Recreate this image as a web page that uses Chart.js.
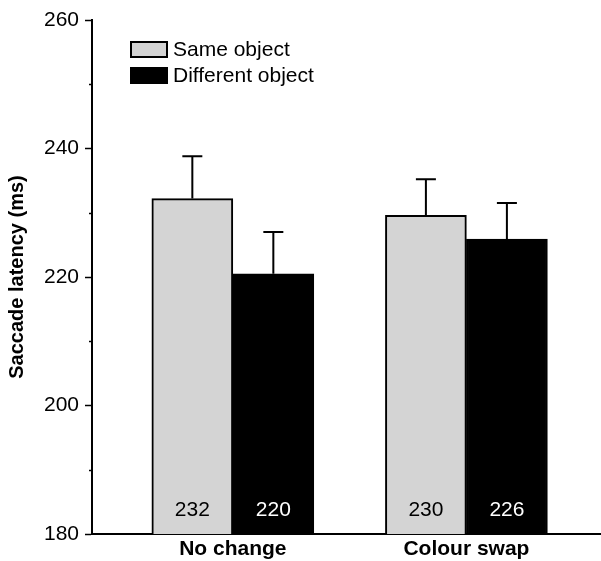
<!DOCTYPE html>
<html>
<head>
<meta charset="utf-8">
<script src="https://cdn.jsdelivr.net/npm/chart.js@4"></script>
<style>
  html, body { margin: 0; padding: 0; background: #fff; }
</style>
</head>
<body>
<canvas id="chart" width="601" height="561"></canvas>
<script>
// data
const CATEGORIES = ['No change', 'Colour swap'];
const SERIES = ['Same object', 'Different object'];
const SAME = [232.2, 229.6];
const DIFF = [220.5, 225.9];
const SAME_ERR = [238.8, 235.2];   // top of error bar
const DIFF_ERR = [227.0, 231.5];
const SAME_LABEL = ['232', '230'];
const DIFF_LABEL = ['220', '226'];
const Y_TICKS = [180, 200, 220, 240, 260];

const FONT = '"Liberation Sans", Arial, Helvetica, sans-serif';

// error bars, bar labels, minor ticks and legend
const extras = {
    id: 'extras',
    afterDatasetsDraw(chart) {
        const ctx = chart.ctx;
        const y = chart.scales.y;
        const errs = [SAME_ERR, DIFF_ERR];
        const labels = [SAME_LABEL, DIFF_LABEL];
        const textCol = ['#000', '#fff'];
        ctx.save();
        chart.data.datasets.forEach((ds, di) => {
            const meta = chart.getDatasetMeta(di);
            meta.data.forEach((bar, i) => {
                const top = y.getPixelForValue(errs[di][i]);
                ctx.strokeStyle = '#000';
                ctx.lineWidth = 2;
                ctx.beginPath();
                ctx.moveTo(bar.x, bar.y);
                ctx.lineTo(bar.x, top);
                ctx.moveTo(bar.x - 10, top);
                ctx.lineTo(bar.x + 10, top);
                ctx.stroke();

                ctx.fillStyle = textCol[di];
                ctx.font = '21px ' + FONT;
                ctx.textAlign = 'center';
                ctx.textBaseline = 'middle';
                ctx.fillText(labels[di][i], bar.x, y.bottom - 24);
            });
        });

        // minor ticks (shorter)
        ctx.strokeStyle = '#000';
        ctx.lineWidth = 1.5;
        for (let v = y.min + 10; v < y.max; v += 20) {
            const py = Math.round(y.getPixelForValue(v)) + 0.5;
            ctx.beginPath();
            ctx.moveTo(y.right - 3, py);
            ctx.lineTo(y.right, py);
            ctx.stroke();
        }

        // legend
        const lx = 131, ly = [42, 68];
        chart.data.datasets.forEach((ds, di) => {
            ctx.fillStyle = ds.backgroundColor;
            ctx.fillRect(lx, ly[di], 36, 15);
            ctx.strokeStyle = '#000';
            ctx.lineWidth = 2;
            ctx.strokeRect(lx, ly[di], 36, 15);
            ctx.fillStyle = '#000';
            ctx.font = '21px ' + FONT;
            ctx.textAlign = 'left';
            ctx.textBaseline = 'middle';
            ctx.fillText(ds.label, lx + 42, ly[di] + 8);
        });
        ctx.restore();
    }
};

new Chart(document.getElementById('chart'), {
    type: 'bar',
    data: {
        datasets: [
            {
                label: SERIES[0],
                data: CATEGORIES.map((c, i) => ({ x: i + 1, y: SAME[i] })),
                backgroundColor: '#d4d4d4',
                borderColor: '#000',
                borderWidth: 2,
                borderSkipped: 'bottom',
                barThickness: 81
            },
            {
                label: SERIES[1],
                data: CATEGORIES.map((c, i) => ({ x: i + 1, y: DIFF[i] })),
                backgroundColor: '#000',
                borderColor: '#000',
                borderWidth: 2,
                borderSkipped: 'bottom',
                barThickness: 81
            }
        ]
    },
    options: {
        responsive: false,
        animation: false,
        layout: { padding: { top: 20, right: 1, left: 0, bottom: 0 } },
        plugins: { legend: { display: false }, tooltip: { enabled: false } },
        scales: {
            x: {
                type: 'linear',
                min: 0.397,
                max: 2.572,
                offset: false,
                grid: { display: true, drawOnChartArea: false, drawTicks: false, offset: false },
                border: { display: true, color: '#000', width: 2 },
                ticks: {
                    stepSize: 1,
                    includeBounds: false,
                    autoSkip: false,
                    maxRotation: 0,
                    padding: 3,
                    color: '#000',
                    font: { family: FONT, size: 21, weight: 'bold' },
                    callback: v => Number.isInteger(v) ? CATEGORIES[v - 1] : ''
                },
                afterFit: s => { s.height = 27; }
            },
            y: {
                min: 180,
                max: 260,
                grid: {
                    display: true,
                    drawOnChartArea: false,
                    tickLength: 7,
                    tickWidth: 1.5,
                    tickColor: c => (Y_TICKS.includes(c.tick.value) ? '#000' : 'rgba(0,0,0,0)')
                },
                border: { display: true, color: '#000', width: 2 },
                ticks: {
                    stepSize: 10,
                    padding: 6,
                    color: '#000',
                    font: { family: FONT, size: 21 },
                    callback: v => (Y_TICKS.includes(v) ? String(v) : '')
                },
                title: {
                    display: true,
                    text: 'Saccade latency (ms)',
                    color: '#000',
                    font: { family: FONT, size: 20, weight: 'bold' },
                    padding: { top: 5, bottom: 0 }
                },
                afterFit: s => { s.width = 92; }
            }
        }
    },
    plugins: [extras]
});
</script>
</body>
</html>
